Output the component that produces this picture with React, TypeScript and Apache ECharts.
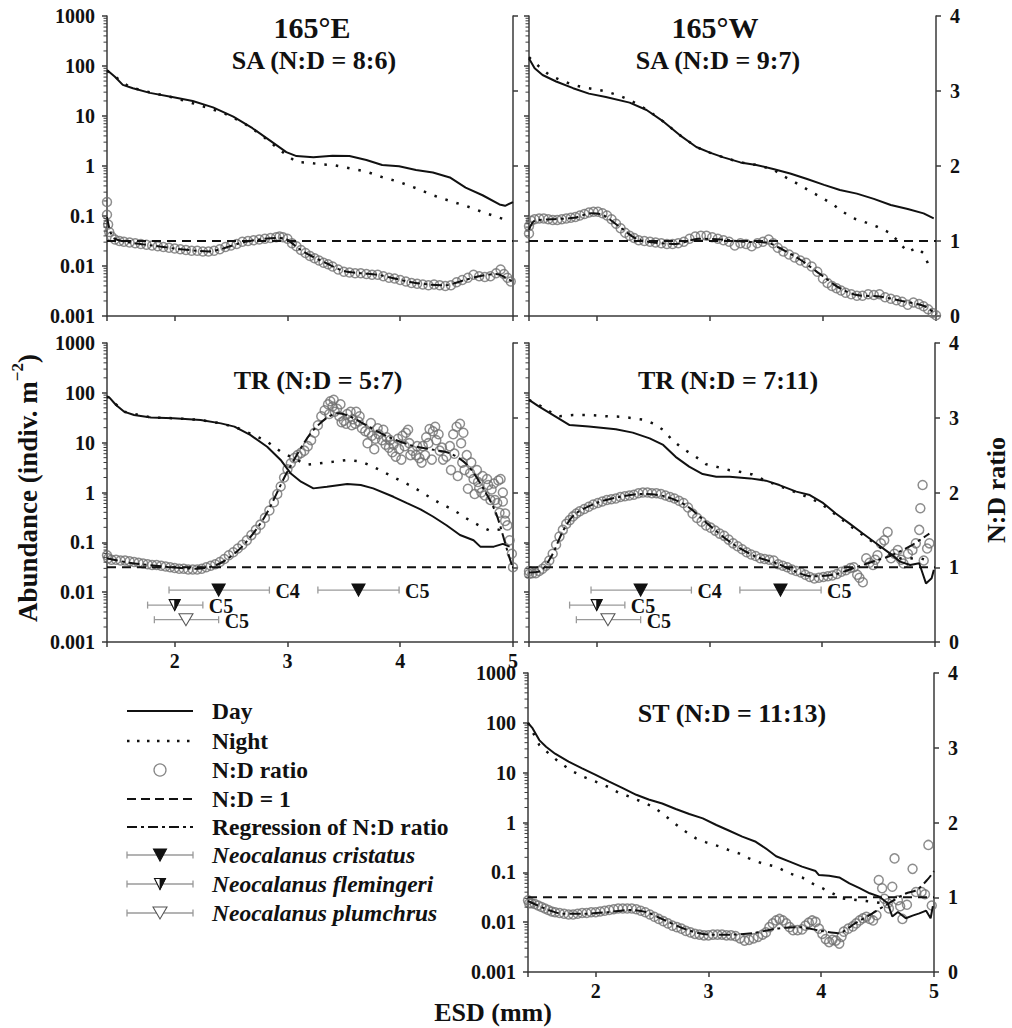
import React, { useEffect, useRef } from "react";
import * as echarts from "echarts";

const FONT = '"Liberation Serif", "DejaVu Serif", serif';
const INK = "#111111";
const AXIS = "#3a3a3a";
const CIRCLE = "#707070";
const BAR_GREY = "#9a9a9a";

// ---------- axes ----------
const ESD_MIN = 1.4;
const ESD_MAX = 5;
const LOG_MIN = 0.001;
const LOG_MAX = 1000;
const LOG_TICK_LABELS = ["0.001", "0.01", "0.1", "1", "10", "100", "1000"];
const RATIO_TICK_LABELS = ["0", "1", "2", "3", "4"];
const MINOR_MULTIPLIERS = [2, 3, 4, 5, 6, 7, 8, 9];
const MINOR_DECADES = [0.001, 0.01, 0.1, 1, 10, 100];
const UNITY_LINE = [[1.4, 1], [5, 1]];

// ---------- 165°E, SA ----------
const TL_DAY = [[1.40, 83], [1.47, 61], [1.54, 42], [1.63, 36], [1.78, 29], [1.99, 23.6], [2.16, 20], [2.34, 14.9], [2.52, 9.7], [2.69, 5.7], [2.84, 3.3], [2.99, 1.9], [3.08, 1.58], [3.23, 1.49], [3.40, 1.6], [3.55, 1.58], [3.70, 1.32], [3.84, 1.05], [3.99, 0.99], [4.14, 0.83], [4.29, 0.74], [4.44, 0.59], [4.58, 0.37], [4.73, 0.26], [4.88, 0.17], [4.93, 0.16], [5.0, 0.19]];
const TL_NIGHT = [[1.40, 80], [1.50, 55], [1.60, 38], [1.80, 29], [2.00, 23], [2.16, 18], [2.30, 14.5], [2.45, 11], [2.60, 7.5], [2.75, 4.5], [2.90, 2.4], [3.00, 1.6], [3.08, 1.2], [3.17, 1.17], [3.30, 1.08], [3.40, 1.05], [3.55, 0.9], [3.70, 0.77], [3.84, 0.6], [3.99, 0.48], [4.14, 0.36], [4.29, 0.26], [4.44, 0.2], [4.58, 0.16], [4.73, 0.12], [4.94, 0.083]];
const TL_RATIO = [[1.40, 1.52], [1.40, 1.35], [1.41, 1.22], [1.42, 1.12], [1.44, 1.06], [1.47, 1.02], [1.51, 1.00], [1.55, 0.99], [1.60, 0.98], [1.65, 0.97], [1.70, 0.96], [1.75, 0.95], [1.80, 0.94], [1.85, 0.93], [1.90, 0.92], [1.95, 0.91], [2.00, 0.90], [2.05, 0.89], [2.10, 0.88], [2.15, 0.87], [2.20, 0.87], [2.25, 0.86], [2.30, 0.86], [2.35, 0.87], [2.40, 0.89], [2.45, 0.92], [2.50, 0.94], [2.55, 0.96], [2.60, 0.99], [2.65, 1.00], [2.70, 1.01], [2.75, 1.02], [2.80, 1.03], [2.85, 1.04], [2.90, 1.05], [2.93, 1.06], [2.96, 1.05], [3.00, 1.03], [3.04, 0.97], [3.08, 0.93], [3.12, 0.88], [3.16, 0.84], [3.20, 0.80], [3.24, 0.77], [3.28, 0.74], [3.32, 0.71], [3.36, 0.69], [3.40, 0.66], [3.45, 0.62], [3.50, 0.59], [3.55, 0.58], [3.60, 0.57], [3.65, 0.57], [3.70, 0.56], [3.75, 0.55], [3.80, 0.55], [3.85, 0.53], [3.90, 0.51], [3.95, 0.50], [4.00, 0.48], [4.05, 0.46], [4.10, 0.44], [4.15, 0.43], [4.20, 0.42], [4.25, 0.41], [4.30, 0.42], [4.35, 0.41], [4.40, 0.40], [4.45, 0.41], [4.50, 0.45], [4.55, 0.48], [4.60, 0.51], [4.65, 0.55], [4.70, 0.53], [4.75, 0.52], [4.80, 0.53], [4.85, 0.57], [4.89, 0.62], [4.92, 0.56], [4.95, 0.51], [4.98, 0.46]];
const TL_REG = [[1.40, 1.32], [1.43, 1.12], [1.47, 1.03], [1.60, 0.98], [1.80, 0.94], [2.00, 0.90], [2.20, 0.87], [2.30, 0.86], [2.45, 0.91], [2.60, 0.98], [2.75, 1.02], [2.90, 1.04], [2.98, 1.03], [3.10, 0.90], [3.20, 0.81], [3.35, 0.70], [3.50, 0.60], [3.65, 0.57], [3.80, 0.55], [3.95, 0.50], [4.10, 0.45], [4.25, 0.42], [4.40, 0.41], [4.55, 0.47], [4.70, 0.53], [4.85, 0.56], [4.95, 0.50], [5.0, 0.45]];

// ---------- 165°W, SA ----------
const TR_DAY = [[1.40, 142], [1.45, 90], [1.52, 66], [1.64, 49], [1.79, 36], [1.93, 28], [2.08, 24], [2.29, 18.5], [2.44, 13.2], [2.59, 7.7], [2.73, 4.2], [2.88, 2.4], [3.00, 1.85], [3.12, 1.49], [3.27, 1.18], [3.41, 1.05], [3.56, 0.87], [3.71, 0.71], [3.86, 0.55], [4.01, 0.42], [4.15, 0.33], [4.30, 0.28], [4.45, 0.22], [4.60, 0.166], [4.75, 0.138], [4.89, 0.113], [4.98, 0.09]];
const TR_NIGHT = [[1.40, 150], [1.49, 97], [1.58, 66], [1.68, 52], [1.79, 42], [1.89, 37], [1.99, 34], [2.08, 31], [2.19, 26], [2.29, 21], [2.44, 13.5], [2.59, 7.7], [2.73, 4.2], [2.88, 2.4], [3.00, 1.85], [3.12, 1.49], [3.27, 1.18], [3.41, 1.05], [3.56, 0.85], [3.65, 0.63], [3.74, 0.49], [3.89, 0.31], [3.98, 0.24], [4.09, 0.17], [4.18, 0.12], [4.27, 0.09], [4.36, 0.077], [4.48, 0.061], [4.60, 0.045], [4.75, 0.019], [4.83, 0.023], [4.89, 0.018], [4.94, 0.0097]];
const TR_RATIO = [[1.40, 1.10], [1.40, 1.20], [1.42, 1.27], [1.45, 1.29], [1.49, 1.30], [1.53, 1.30], [1.57, 1.29], [1.61, 1.28], [1.65, 1.28], [1.69, 1.29], [1.73, 1.30], [1.77, 1.31], [1.81, 1.32], [1.85, 1.34], [1.89, 1.36], [1.93, 1.38], [1.97, 1.39], [2.01, 1.39], [2.05, 1.37], [2.09, 1.34], [2.13, 1.29], [2.17, 1.23], [2.21, 1.17], [2.25, 1.11], [2.29, 1.07], [2.33, 1.04], [2.37, 1.01], [2.42, 1.00], [2.47, 0.99], [2.52, 0.98], [2.57, 0.97], [2.62, 0.96], [2.67, 0.96], [2.72, 0.97], [2.77, 0.99], [2.82, 1.03], [2.87, 1.06], [2.92, 1.07], [2.97, 1.07], [3.02, 1.05], [3.07, 1.03], [3.12, 1.01], [3.17, 0.99], [3.22, 0.94], [3.27, 0.97], [3.32, 0.96], [3.37, 0.93], [3.42, 0.97], [3.47, 0.99], [3.52, 1.02], [3.56, 0.97], [3.60, 0.91], [3.65, 0.86], [3.70, 0.82], [3.75, 0.78], [3.80, 0.74], [3.85, 0.71], [3.90, 0.66], [3.95, 0.59], [4.00, 0.50], [4.04, 0.44], [4.08, 0.40], [4.12, 0.37], [4.16, 0.34], [4.20, 0.31], [4.25, 0.29], [4.30, 0.27], [4.35, 0.27], [4.40, 0.29], [4.45, 0.28], [4.50, 0.29], [4.55, 0.25], [4.60, 0.23], [4.65, 0.21], [4.70, 0.19], [4.75, 0.15], [4.80, 0.18], [4.85, 0.16], [4.89, 0.13], [4.93, 0.09], [4.97, 0.04], [5.0, 0.01]];
const TR_REG = [[1.40, 1.15], [1.45, 1.27], [1.60, 1.29], [1.80, 1.31], [1.95, 1.37], [2.05, 1.35], [2.20, 1.19], [2.35, 1.03], [2.50, 0.98], [2.70, 0.96], [2.90, 1.03], [3.10, 1.02], [3.30, 0.99], [3.50, 0.98], [3.60, 0.92], [3.80, 0.75], [4.00, 0.53], [4.15, 0.37], [4.30, 0.28], [4.50, 0.26], [4.70, 0.20], [4.90, 0.13], [5.0, 0.02]];

// ---------- 165°E, TR ----------
const ML_DAY = [[1.40, 85], [1.42, 81], [1.48, 57], [1.55, 42], [1.64, 36], [1.79, 32], [1.99, 31], [2.23, 28.5], [2.41, 24.4], [2.53, 21], [2.67, 14.3], [2.82, 8.3], [2.94, 4.5], [3.03, 2.4], [3.12, 1.65], [3.23, 1.21], [3.35, 1.31], [3.53, 1.48], [3.65, 1.41], [3.76, 1.21], [3.94, 0.82], [4.06, 0.61], [4.18, 0.46], [4.29, 0.33], [4.41, 0.22], [4.53, 0.14], [4.65, 0.11], [4.71, 0.082], [4.83, 0.082], [4.91, 0.093], [4.97, 0.082]];
const ML_NIGHT = [[1.40, 85], [1.55, 42], [1.79, 32], [1.99, 31], [2.23, 28.5], [2.41, 24.4], [2.55, 20], [2.70, 14.3], [2.82, 10.5], [2.94, 6.6], [3.03, 5.2], [3.17, 3.6], [3.35, 4.0], [3.53, 4.5], [3.65, 4.2], [3.76, 3.3], [3.88, 2.4], [3.99, 1.78], [4.11, 1.31], [4.23, 0.89], [4.35, 0.61], [4.47, 0.45], [4.59, 0.30], [4.71, 0.21], [4.80, 0.17], [4.88, 0.18], [4.94, 0.24]];
const ML_RATIO = [[1.40, 1.16], [1.41, 1.12], [1.44, 1.10], [1.48, 1.10], [1.52, 1.09], [1.56, 1.09], [1.60, 1.08], [1.64, 1.07], [1.68, 1.06], [1.72, 1.05], [1.76, 1.04], [1.80, 1.03], [1.84, 1.03], [1.88, 1.02], [1.92, 1.01], [1.96, 1.00], [2.00, 0.99], [2.04, 0.98], [2.08, 0.98], [2.12, 0.97], [2.16, 0.97], [2.20, 0.97], [2.24, 0.98], [2.28, 1.00], [2.32, 1.02], [2.36, 1.04], [2.40, 1.07], [2.44, 1.11], [2.48, 1.16], [2.52, 1.20], [2.56, 1.25], [2.60, 1.30], [2.64, 1.36], [2.68, 1.43], [2.72, 1.50], [2.76, 1.57], [2.80, 1.66], [2.84, 1.76], [2.88, 1.87], [2.91, 1.98], [2.94, 2.08], [2.97, 2.20], [3.00, 2.31], [3.03, 2.39], [3.06, 2.46], [3.09, 2.50], [3.12, 2.53], [3.15, 2.56], [3.18, 2.62], [3.21, 2.70], [3.24, 2.80], [3.27, 2.90], [3.30, 3.02], [3.33, 3.10], [3.36, 3.18], [3.38, 3.22], [3.40, 3.15], [3.42, 3.08], [3.44, 3.12], [3.46, 3.02], [3.48, 2.94], [3.50, 2.96], [3.53, 3.05], [3.56, 3.08], [3.58, 2.98], [3.60, 2.92], [3.63, 2.95], [3.66, 2.86], [3.69, 2.82], [3.72, 2.80], [3.75, 2.76], [3.78, 2.72], [3.81, 2.78], [3.84, 2.70], [3.87, 2.64], [3.90, 2.60], [3.93, 2.54], [3.96, 2.48], [3.99, 2.58], [4.02, 2.76], [4.05, 2.80], [4.08, 2.66], [4.11, 2.56], [4.14, 2.50], [4.17, 2.46], [4.20, 2.62], [4.23, 2.74], [4.26, 2.85], [4.29, 2.82], [4.32, 2.70], [4.35, 2.56], [4.38, 2.44], [4.41, 2.48], [4.44, 2.62], [4.47, 2.78], [4.50, 2.88], [4.53, 2.92], [4.55, 2.40], [4.57, 2.30], [4.59, 2.50], [4.62, 2.26], [4.65, 2.18], [4.68, 2.30], [4.70, 2.06], [4.72, 2.00], [4.75, 1.96], [4.78, 2.10], [4.81, 2.04], [4.84, 1.90], [4.87, 2.16], [4.89, 2.18], [4.91, 1.88], [4.93, 1.72], [4.95, 1.56], [4.97, 1.36], [4.99, 1.18], [5.00, 1.00],
  [3.37, 3.05], [3.41, 3.24], [3.47, 3.18], [3.52, 2.92], [3.57, 2.90], [3.61, 3.08], [3.64, 3.02], [3.71, 2.66], [3.74, 2.93], [3.77, 2.58], [3.80, 2.86], [3.85, 2.84], [3.88, 2.74], [3.91, 2.70], [3.94, 2.64], [3.98, 2.72], [4.01, 2.44], [4.04, 2.62], [4.07, 2.84], [4.09, 2.50], [4.15, 2.62], [4.19, 2.40], [4.22, 2.50], [4.25, 2.66], [4.28, 2.44], [4.31, 2.88], [4.34, 2.78], [4.37, 2.60], [4.45, 2.30], [4.48, 2.52], [4.51, 2.22], [4.54, 2.66], [4.56, 2.80], [4.60, 2.05], [4.63, 2.40], [4.66, 1.98], [4.69, 2.14], [4.73, 2.22], [4.77, 2.18], [4.80, 1.90], [4.83, 2.12], [4.86, 1.86], [4.88, 1.73], [4.91, 2.00], [4.93, 1.62]];
const ML_REG = [[1.40, 1.12], [1.60, 1.06], [1.90, 1.01], [2.20, 0.98], [2.40, 1.05], [2.60, 1.28], [2.80, 1.68], [3.00, 2.28], [3.20, 2.78], [3.35, 3.00], [3.45, 3.06], [3.55, 3.02], [3.70, 2.90], [3.90, 2.74], [4.10, 2.63], [4.30, 2.57], [4.45, 2.52], [4.60, 2.36], [4.75, 2.02], [4.85, 1.72], [4.95, 1.22], [5.0, 0.98]];

// ---------- 165°W, TR ----------
const MR_DAY = [[1.40, 72], [1.49, 53], [1.64, 33], [1.76, 22.6], [1.93, 21], [2.17, 18.5], [2.32, 15.9], [2.47, 12.2], [2.59, 9.0], [2.70, 5.2], [2.82, 3.3], [2.94, 2.35], [3.06, 2.08], [3.18, 2.08], [3.36, 1.92], [3.50, 1.73], [3.62, 1.41], [3.77, 1.04], [3.89, 0.89], [4.01, 0.61], [4.12, 0.38], [4.24, 0.24], [4.36, 0.15], [4.48, 0.095], [4.60, 0.06], [4.69, 0.041], [4.78, 0.035], [4.86, 0.038], [4.89, 0.024], [4.92, 0.015], [4.97, 0.019], [4.99, 0.028]];
const MR_NIGHT = [[1.40, 72], [1.50, 55], [1.60, 40], [1.67, 34], [1.79, 36], [1.93, 36], [2.08, 34], [2.23, 33], [2.41, 29], [2.50, 24.4], [2.59, 18], [2.67, 11.3], [2.76, 7.7], [2.88, 5.2], [2.97, 3.7], [3.06, 3.3], [3.18, 2.8], [3.27, 2.6], [3.38, 2.3], [3.50, 1.73], [3.62, 1.35], [3.77, 1.0], [3.92, 0.72], [4.01, 0.55], [4.12, 0.36], [4.24, 0.22], [4.36, 0.14], [4.48, 0.09], [4.60, 0.058], [4.72, 0.045], [4.85, 0.05], [4.97, 0.04]];
const MR_RATIO = [[1.40, 0.95], [1.40, 0.91], [1.43, 0.92], [1.46, 0.92], [1.49, 0.95], [1.52, 0.98], [1.55, 1.02], [1.58, 1.09], [1.61, 1.18], [1.64, 1.30], [1.67, 1.41], [1.70, 1.50], [1.73, 1.58], [1.76, 1.63], [1.79, 1.68], [1.82, 1.72], [1.85, 1.75], [1.89, 1.78], [1.93, 1.81], [1.97, 1.84], [2.01, 1.86], [2.05, 1.88], [2.09, 1.90], [2.13, 1.91], [2.17, 1.92], [2.21, 1.94], [2.25, 1.95], [2.29, 1.96], [2.33, 1.97], [2.37, 1.99], [2.41, 2.00], [2.45, 2.00], [2.49, 1.99], [2.53, 1.99], [2.57, 1.98], [2.61, 1.96], [2.65, 1.94], [2.69, 1.92], [2.73, 1.89], [2.77, 1.86], [2.81, 1.80], [2.85, 1.72], [2.89, 1.66], [2.93, 1.61], [2.97, 1.56], [3.01, 1.53], [3.05, 1.49], [3.09, 1.45], [3.13, 1.42], [3.17, 1.37], [3.21, 1.32], [3.25, 1.28], [3.29, 1.24], [3.33, 1.20], [3.37, 1.17], [3.41, 1.15], [3.45, 1.12], [3.49, 1.11], [3.53, 1.10], [3.57, 1.09], [3.61, 1.04], [3.65, 1.02], [3.69, 1.00], [3.73, 0.97], [3.77, 0.95], [3.81, 0.93], [3.85, 0.90], [3.89, 0.87], [3.93, 0.85], [3.97, 0.86], [4.01, 0.87], [4.05, 0.88], [4.09, 0.89], [4.13, 0.91], [4.17, 0.94], [4.21, 0.96], [4.25, 0.99], [4.28, 1.00], [4.31, 0.90], [4.33, 0.86], [4.36, 0.80], [4.39, 1.12], [4.42, 1.06], [4.45, 1.03], [4.47, 1.10], [4.49, 1.16], [4.52, 1.32], [4.55, 1.36], [4.58, 1.47], [4.61, 1.12], [4.64, 1.18], [4.67, 1.23], [4.70, 1.10], [4.72, 1.05], [4.76, 1.18], [4.80, 1.23], [4.83, 1.32], [4.86, 1.50], [4.87, 1.79], [4.89, 2.10], [4.90, 1.09], [4.93, 1.25], [4.95, 1.32]];
const MR_REG = [[1.40, 0.93], [1.50, 0.95], [1.60, 1.15], [1.70, 1.48], [1.80, 1.70], [2.00, 1.86], [2.20, 1.94], [2.40, 1.98], [2.60, 1.95], [2.80, 1.82], [3.00, 1.56], [3.20, 1.32], [3.40, 1.15], [3.60, 1.05], [3.75, 0.95], [3.90, 0.88], [4.10, 0.90], [4.30, 1.00], [4.50, 1.10], [4.60, 1.15], [4.70, 1.22], [4.80, 1.30], [4.90, 1.40], [4.95, 1.45]];

// ---------- 165°W, ST ----------
const BR_DAY = [[1.40, 100], [1.44, 78], [1.50, 45], [1.56, 33], [1.64, 24], [1.76, 16.6], [1.88, 12.2], [2.00, 9.0], [2.12, 6.6], [2.24, 4.9], [2.36, 3.6], [2.47, 2.9], [2.59, 2.4], [2.71, 1.87], [2.83, 1.48], [2.95, 1.21], [3.07, 0.89], [3.18, 0.69], [3.30, 0.52], [3.42, 0.41], [3.51, 0.30], [3.60, 0.21], [3.72, 0.164], [3.83, 0.13], [3.95, 0.106], [3.98, 0.088], [4.07, 0.085], [4.16, 0.079], [4.25, 0.06], [4.34, 0.048], [4.43, 0.038], [4.51, 0.033], [4.59, 0.024], [4.63, 0.013], [4.68, 0.016], [4.75, 0.012], [4.81, 0.0135], [4.87, 0.015], [4.93, 0.017], [4.97, 0.012], [4.99, 0.021]];
const BR_NIGHT = [[1.40, 100], [1.50, 36], [1.60, 22.6], [1.69, 15.4], [1.79, 10.8], [1.89, 8.3], [2.00, 6.6], [2.11, 5.2], [2.20, 4.0], [2.30, 3.3], [2.41, 2.6], [2.51, 2.08], [2.59, 1.53], [2.70, 0.96], [2.80, 0.65], [2.89, 0.48], [2.98, 0.40], [3.10, 0.33], [3.18, 0.28], [3.27, 0.24], [3.36, 0.19], [3.48, 0.15], [3.60, 0.13], [3.72, 0.095], [3.83, 0.079], [3.92, 0.06], [4.01, 0.048], [4.10, 0.038], [4.19, 0.03], [4.31, 0.028], [4.43, 0.026], [4.55, 0.024]];
const BR_RATIO = [[1.40, 0.96], [1.41, 0.92], [1.43, 0.92], [1.46, 0.91], [1.49, 0.89], [1.52, 0.87], [1.55, 0.85], [1.58, 0.83], [1.61, 0.81], [1.64, 0.80], [1.68, 0.79], [1.72, 0.78], [1.76, 0.77], [1.80, 0.77], [1.84, 0.78], [1.88, 0.79], [1.92, 0.79], [1.96, 0.80], [2.00, 0.80], [2.04, 0.81], [2.08, 0.82], [2.12, 0.83], [2.16, 0.84], [2.20, 0.85], [2.24, 0.85], [2.28, 0.85], [2.32, 0.85], [2.36, 0.84], [2.40, 0.82], [2.44, 0.80], [2.48, 0.77], [2.52, 0.74], [2.56, 0.71], [2.60, 0.68], [2.64, 0.65], [2.68, 0.62], [2.72, 0.60], [2.76, 0.58], [2.80, 0.55], [2.84, 0.53], [2.88, 0.51], [2.92, 0.50], [2.96, 0.49], [3.00, 0.49], [3.04, 0.50], [3.08, 0.50], [3.12, 0.50], [3.16, 0.49], [3.20, 0.49], [3.24, 0.48], [3.28, 0.45], [3.32, 0.42], [3.36, 0.43], [3.40, 0.45], [3.44, 0.47], [3.48, 0.50], [3.51, 0.53], [3.54, 0.60], [3.57, 0.65], [3.60, 0.69], [3.63, 0.71], [3.66, 0.69], [3.69, 0.65], [3.72, 0.60], [3.75, 0.56], [3.79, 0.56], [3.83, 0.57], [3.86, 0.62], [3.89, 0.66], [3.92, 0.69], [3.95, 0.67], [3.98, 0.58], [4.01, 0.51], [4.04, 0.44], [4.07, 0.40], [4.10, 0.43], [4.13, 0.42], [4.16, 0.38], [4.18, 0.47], [4.20, 0.54], [4.24, 0.58], [4.28, 0.61], [4.31, 0.65], [4.34, 0.69], [4.37, 0.72], [4.40, 0.74], [4.43, 0.71], [4.46, 0.69], [4.49, 0.76], [4.51, 1.23], [4.54, 1.12], [4.56, 0.98], [4.59, 0.92], [4.60, 0.85], [4.63, 1.14], [4.65, 1.52], [4.68, 0.96], [4.70, 0.88], [4.72, 0.71], [4.76, 0.90], [4.81, 1.38], [4.84, 1.07], [4.89, 1.07], [4.92, 1.04], [4.95, 1.70], [4.98, 0.89]];
const BR_REG = [[1.40, 0.95], [1.50, 0.88], [1.60, 0.82], [1.70, 0.78], [1.90, 0.78], [2.10, 0.80], [2.30, 0.83], [2.45, 0.80], [2.60, 0.70], [2.80, 0.57], [3.00, 0.50], [3.20, 0.50], [3.40, 0.52], [3.60, 0.58], [3.80, 0.60], [4.00, 0.55], [4.15, 0.52], [4.30, 0.65], [4.45, 0.78], [4.60, 0.92], [4.75, 1.05], [4.85, 1.10], [4.95, 1.25], [5.0, 1.35]];

// ---------- developmental-stage size ranges (TR panels) ----------
const STAGE_LOW = [1.95, 3.27, 1.76, 1.82];
const STAGE_MID = [2.39, 3.63, 2.00, 2.10];
const STAGE_HIGH = [2.84, 3.99, 2.25, 2.39];
const STAGE_Y = [0.011, 0.011, 0.0055, 0.0028];
const STAGE_SPECIES = [0, 0, 1, 2];
const STAGE_NAMES = ["C4", "C5", "C5", "C5"];

// ---------- titles and legend text ----------
const PANEL_TITLES = ["SA (N:D = 8:6)", "SA (N:D = 9:7)", "TR (N:D = 5:7)", "TR (N:D = 7:11)", "ST (N:D = 11:13)"];
const COLUMN_TITLES = ["165°E", "165°W"];
const LEGEND_LABELS = ["Day", "Night", "N:D ratio", "N:D = 1", "Regression of N:D ratio", "Neocalanus cristatus", "Neocalanus flemingeri", "Neocalanus plumchrus"];

const PANEL_DATA = [
  { day: TL_DAY, night: TL_NIGHT, ratio: TL_RATIO, reg: TL_REG },
  { day: TR_DAY, night: TR_NIGHT, ratio: TR_RATIO, reg: TR_REG },
  { day: ML_DAY, night: ML_NIGHT, ratio: ML_RATIO, reg: ML_REG },
  { day: MR_DAY, night: MR_NIGHT, ratio: MR_RATIO, reg: MR_REG },
  { day: BR_DAY, night: BR_NIGHT, ratio: BR_RATIO, reg: BR_REG },
];

// layout (pixels)
const LAYOUT = [
  { left: 107, top: 16, width: 406, height: 300, yl: true, yr: false, xl: false, bars: false, tx: 314, ty: 60 },
  { left: 529, top: 16, width: 407, height: 300, yl: false, yr: true, xl: false, bars: false, tx: 718, ty: 60 },
  { left: 107, top: 343, width: 406, height: 299, yl: true, yr: false, xl: true, bars: true, tx: 318, ty: 380 },
  { left: 529, top: 343, width: 406, height: 299, yl: false, yr: true, xl: false, bars: true, tx: 728, ty: 380 },
  { left: 528, top: 673, width: 406, height: 299, yl: true, yr: true, xl: true, bars: false, tx: 732, ty: 713 },
];

const labelStyle = { fontSize: 20, fontWeight: "bold" as const, fontFamily: FONT, color: INK };

function triangle(kind: number, cx: number, cy: number): any[] {
  const dims = [[13, 12], [11, 11], [14, 12]][kind];
  const w = dims[0];
  const h = dims[1];
  const els: any[] = [
    {
      type: "polygon",
      shape: { points: [[cx - w / 2, cy - h / 2], [cx + w / 2, cy - h / 2], [cx, cy + h / 2]] },
      style: { fill: kind === 0 ? INK : "#ffffff", stroke: kind === 2 ? "#555555" : INK, lineWidth: 1.1 },
    },
  ];
  if (kind === 1) {
    els.push({
      type: "polygon",
      shape: { points: [[cx, cy - h / 2], [cx + w / 2, cy - h / 2], [cx, cy + h / 2]] },
      style: { fill: INK, stroke: INK, lineWidth: 0.8 },
    });
  }
  return els;
}

function errorBar(x1: number, x2: number, y: number): any[] {
  const st = { stroke: BAR_GREY, lineWidth: 1.3 };
  return [
    { type: "line", shape: { x1, y1: y, x2, y2: y }, style: st },
    { type: "line", shape: { x1, y1: y - 3.5, x2: x1, y2: y + 3.5 }, style: st },
    { type: "line", shape: { x1: x2, y1: y - 3.5, x2, y2: y + 3.5 }, style: st },
  ];
}

function textEl(text: string, x: number, y: number, size: number, extra: any = {}): any {
  return {
    type: "text",
    x,
    y,
    silent: true,
    style: {
      text,
      fill: INK,
      font: `${extra.italic ? "italic " : ""}bold ${size}px ${FONT}`,
      textAlign: extra.align || "center",
      textVerticalAlign: "middle",
      align: extra.align || "center",
      verticalAlign: "middle",
    },
    rotation: extra.rotation || 0,
  };
}

function buildOption(): any {
  const minorTicks: number[][] = [];
  MINOR_DECADES.forEach((d) => MINOR_MULTIPLIERS.forEach((m) => minorTicks.push([ESD_MIN, d * m])));

  const grid: any[] = [];
  const xAxis: any[] = [];
  const yAxis: any[] = [];
  const series: any[] = [];

  const axisLine = { show: true, onZero: false, lineStyle: { color: AXIS, width: 1.5 } };
  const axisTick = { show: true, length: 5, lineStyle: { color: AXIS, width: 1.5 } };

  LAYOUT.forEach((L, i) => {
    const D = PANEL_DATA[i];
    grid.push({ left: L.left, top: L.top, width: L.width, height: L.height, containLabel: false });
    xAxis.push({
      type: "value",
      gridIndex: i,
      min: ESD_MIN,
      max: ESD_MAX,
      splitNumber: 4,
      axisLine,
      axisTick,
      splitLine: { show: false },
      axisLabel: {
        show: L.xl,
        margin: 9,
        ...labelStyle,
        formatter: (v: number) => (Math.abs(v - Math.round(v)) < 1e-6 ? String(Math.round(v)) : ""),
      },
    });
    yAxis.push({
      type: "log",
      logBase: 10,
      gridIndex: i,
      position: "left",
      min: LOG_MIN,
      max: LOG_MAX,
      axisLine,
      axisTick,
      splitLine: { show: false },
      axisLabel: {
        show: L.yl,
        margin: 12,
        ...labelStyle,
        formatter: (v: number) => LOG_TICK_LABELS[Math.round(Math.log10(v)) + 3] || "",
      },
    });
    yAxis.push({
      type: "value",
      gridIndex: i,
      position: "right",
      min: 0,
      max: 4,
      interval: 1,
      axisLine,
      axisTick,
      splitLine: { show: false },
      axisLabel: {
        show: L.yr,
        margin: 14,
        ...labelStyle,
        formatter: (v: number) => RATIO_TICK_LABELS[Math.round(v)] || "",
      },
    });

    const yl = 2 * i;
    const yr = 2 * i + 1;
    series.push({
      type: "scatter",
      xAxisIndex: i,
      yAxisIndex: yr,
      data: D.ratio,
      symbol: "circle",
      symbolSize: 9,
      silent: true,
      itemStyle: { color: "rgba(255,255,255,0)", borderColor: CIRCLE, borderWidth: 1.5 },
      z: 2,
    });
    series.push({
      type: "line",
      xAxisIndex: i,
      yAxisIndex: yr,
      data: D.reg,
      symbol: "none",
      showSymbol: false,
      silent: true,
      smooth: 0.3,
      lineStyle: { color: INK, width: 2, type: [11, 4, 3, 4] },
      z: 3,
    });
    series.push({
      type: "line",
      xAxisIndex: i,
      yAxisIndex: yr,
      data: UNITY_LINE,
      symbol: "none",
      showSymbol: false,
      silent: true,
      lineStyle: { color: INK, width: 2, type: [9, 6] },
      z: 3,
    });
    series.push({
      type: "line",
      xAxisIndex: i,
      yAxisIndex: yl,
      data: D.night,
      symbol: "none",
      showSymbol: false,
      silent: true,
      lineStyle: { color: INK, width: 2.5, type: [2.5, 9] },
      z: 4,
    });
    series.push({
      type: "line",
      xAxisIndex: i,
      yAxisIndex: yl,
      data: D.day,
      symbol: "none",
      showSymbol: false,
      silent: true,
      lineStyle: { color: INK, width: 2 },
      z: 5,
    });
    series.push({
      type: "custom",
      xAxisIndex: i,
      yAxisIndex: yl,
      data: minorTicks,
      silent: true,
      z: 6,
      renderItem: (_p: any, api: any) => {
        const pt = api.coord([api.value(0), api.value(1)]);
        return {
          type: "line",
          shape: { x1: pt[0] - 3.5, y1: pt[1], x2: pt[0], y2: pt[1] },
          style: { stroke: AXIS, lineWidth: 1 },
        };
      },
    });
    if (L.bars) {
      series.push({
        type: "custom",
        xAxisIndex: i,
        yAxisIndex: yl,
        data: STAGE_LOW.map((lo, k) => [lo, STAGE_MID[k], STAGE_HIGH[k], STAGE_Y[k]]),
        silent: true,
        z: 7,
        renderItem: (p: any, api: any) => {
          const k = p.dataIndex;
          const lo = api.coord([api.value(0), api.value(3)]);
          const mid = api.coord([api.value(1), api.value(3)]);
          const hi = api.coord([api.value(2), api.value(3)]);
          const y = mid[1];
          return {
            type: "group",
            children: [
              ...errorBar(lo[0], hi[0], y),
              ...triangle(STAGE_SPECIES[k], mid[0], y),
              {
                type: "text",
                style: {
                  text: STAGE_NAMES[k],
                  x: hi[0] + 6,
                  y: y + 1,
                  fill: INK,
                  font: `bold 20px ${FONT}`,
                  align: "left",
                  verticalAlign: "middle",
                  textAlign: "left",
                  textVerticalAlign: "middle",
                },
              },
            ],
          };
        },
      });
    }
  });

  // ---------- graphic: titles, axis names, legend ----------
  const graphic: any[] = [];
  graphic.push(textEl(COLUMN_TITLES[0], 312, 27, 30));
  graphic.push(textEl(COLUMN_TITLES[1], 715, 27, 30));
  LAYOUT.forEach((L, i) => graphic.push(textEl(PANEL_TITLES[i], L.tx, L.ty, 26)));
  graphic.push(textEl("ESD (mm)", 493, 1012, 26));
  graphic.push(textEl("N:D ratio", 996, 490, 26, { rotation: Math.PI / 2 }));
  graphic.push({
    type: "text",
    x: 25,
    y: 488,
    rotation: Math.PI / 2,
    silent: true,
    style: {
      text: "{a|Abundance (indiv. m}{b|−2}{a|)}",
      textAlign: "center",
      textVerticalAlign: "middle",
      align: "center",
      verticalAlign: "middle",
      rich: {
        a: { fontSize: 27, fontWeight: "bold", fontFamily: FONT, fill: INK, lineHeight: 32, verticalAlign: "bottom" },
        b: { fontSize: 17, fontWeight: "bold", fontFamily: FONT, fill: INK, lineHeight: 32, verticalAlign: "top", padding: [0, 0, 10, 0] },
      },
    },
  });

  const LEG_X1 = 127;
  const LEG_X2 = 193;
  const LEG_MID = 160;
  const LEG_TX = 212;
  const legRows = [711, 741, 770, 799, 827, 855, 884, 913];
  const solid = (y: number, dash: any) => ({
    type: "line",
    silent: true,
    shape: { x1: LEG_X1, y1: y, x2: LEG_X2, y2: y },
    style: { stroke: INK, lineWidth: dash === "night" ? 2.5 : 2, lineDash: dash === "night" ? [2.5, 7.5] : dash },
  });
  graphic.push(solid(legRows[0], null));
  graphic.push(solid(legRows[1], "night"));
  graphic.push({ type: "circle", silent: true, shape: { cx: LEG_MID, cy: legRows[2], r: 6 }, style: { fill: "rgba(255,255,255,0)", stroke: "#888888", lineWidth: 1.3 } });
  graphic.push(solid(legRows[3], [9, 5]));
  graphic.push(solid(legRows[4], [10, 4, 3, 4]));
  [0, 1, 2].forEach((kind) => {
    const y = legRows[5 + kind];
    errorBar(LEG_X1, LEG_X2, y).forEach((e) => graphic.push({ ...e, silent: true }));
    triangle(kind, LEG_MID, y).forEach((e) => graphic.push({ ...e, silent: true }));
  });
  LEGEND_LABELS.forEach((t, k) => {
    graphic.push(textEl(t, LEG_TX, legRows[k], 23.5, { align: "left", italic: k >= 5 }));
  });

  return {
    animation: false,
    backgroundColor: "#ffffff",
    textStyle: { fontFamily: FONT },
    grid,
    xAxis,
    yAxis,
    series,
    graphic,
  };
}

export default function App() {
  const ref = useRef<HTMLDivElement>(null);
  useEffect(() => {
    if (!ref.current) return;
    const chart = echarts.init(ref.current, null, { renderer: "svg" });
    chart.setOption(buildOption());
    return () => {
      chart.dispose();
    };
  }, []);
  return (
    <div
      ref={ref}
      style={{ position: "absolute", left: 0, top: 0, width: 1012, height: 1028, background: "#ffffff" }}
    />
  );
}
